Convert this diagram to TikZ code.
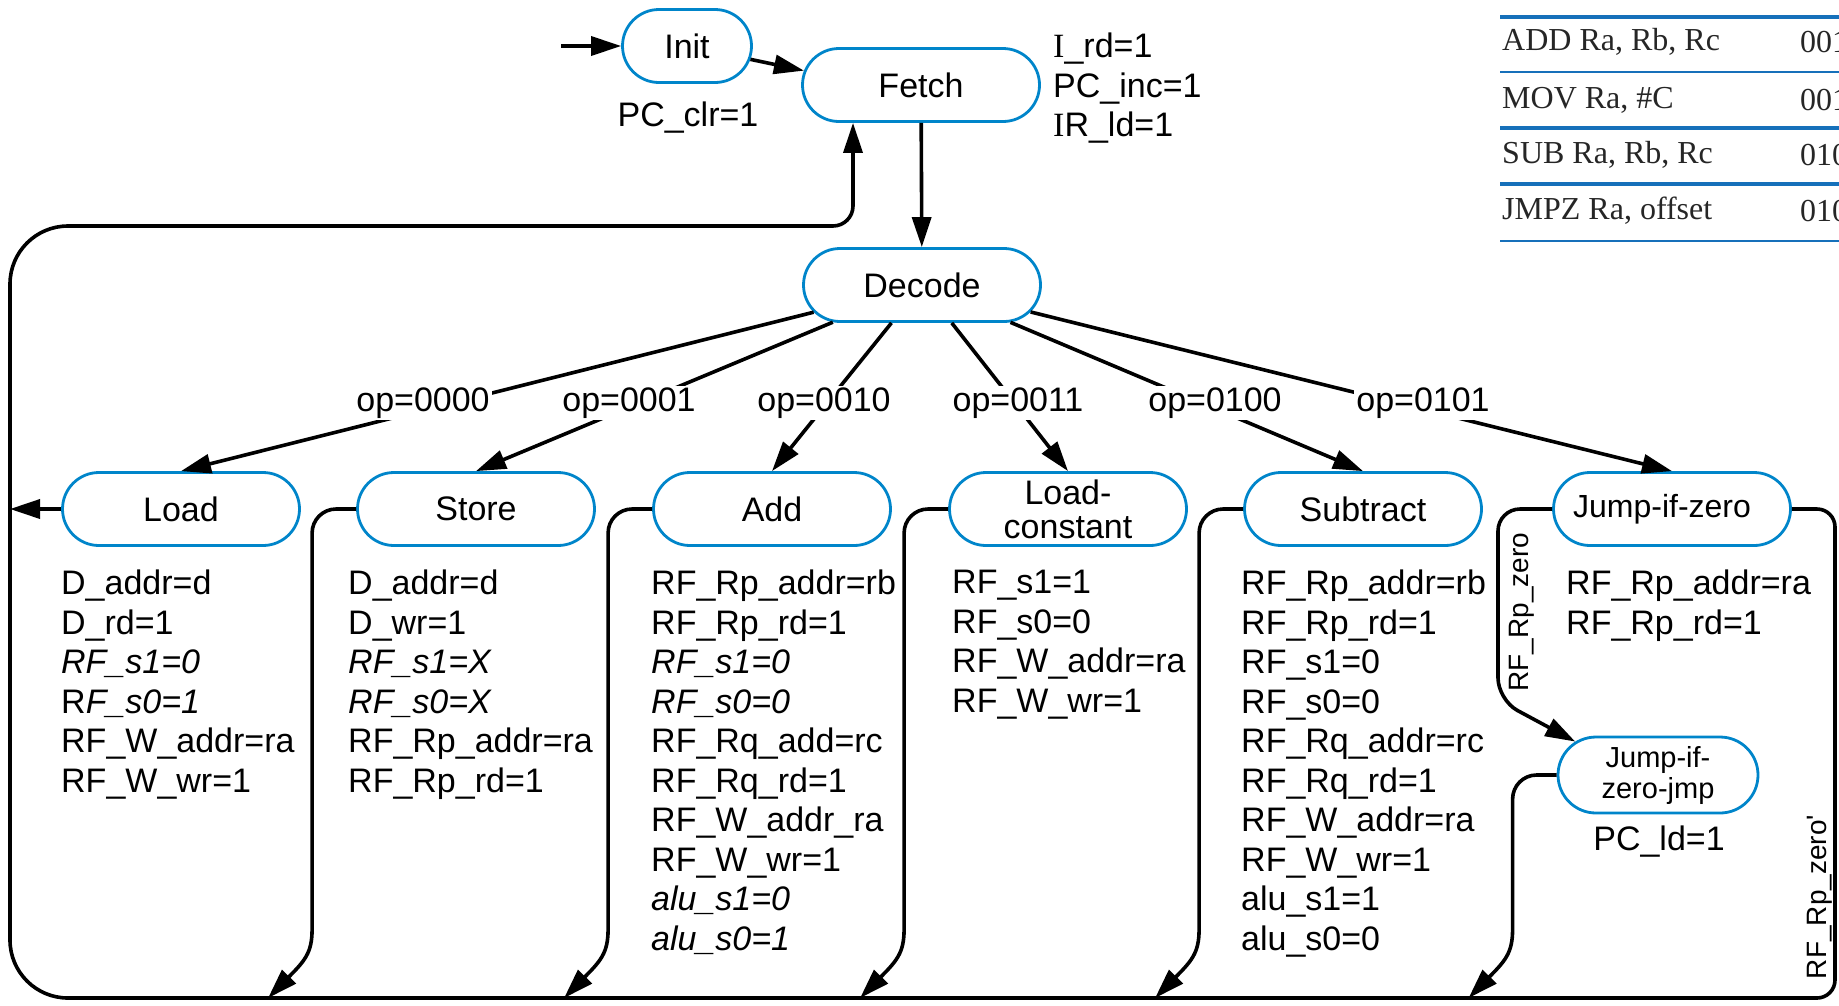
\documentclass[tikz,border=0pt]{standalone}
\usepackage{fontspec}
\setmainfont{Liberation Sans}
\newfontfamily\serifI{Liberation Serif}
\usetikzlibrary{shapes.misc,arrows.meta,bending,calc}
\definecolor{stateblue}{RGB}{0,133,202}
\definecolor{rowblue}{RGB}{22,112,186}

\begin{document}
\begin{tikzpicture}[x=1pt,y=-1pt,
    state/.style={rounded rectangle,draw=stateblue,line width=2.8pt,minimum width=237pt,minimum height=73pt,inner sep=0pt,font=\fontsize{34}{35}\selectfont},
    ctl/.style={anchor=north west,align=left,inner sep=0pt,font=\fontsize{34}{39.5}\selectfont},
    act/.style={inner sep=0pt,font=\fontsize{34}{36}\selectfont},
    cond/.style={fill=white,inner sep=2pt,font=\fontsize{34}{36}\selectfont},
    side/.style={rotate=90,inner sep=0pt,font=\fontsize{28}{30}\selectfont},
    wire/.style={line width=3.6pt,-{Triangle[length=30pt,width=19pt]}},
    rowline/.style={rowblue,line width=#1},
    rowtext/.style={anchor=west,inner sep=0pt,text=black!85,font=\serifI\fontsize{32}{34}\selectfont}]
    \useasboundingbox (0,0) rectangle (1839,1005);
    % 指令表
    \foreach \y/\w in {17/4.5,72/2.5,128/4.5,184/4.5,241/2.5}
        \draw[rowline=\w pt] (1500,\y) -- (1839,\y);
    \foreach \y/\ins/\code [count=\i] in {42/{ADD Ra, Rb, Rc}/001,100/{MOV Ra, \#C}/001,155/{SUB Ra, Rb, Rc}/010,211/{JMPZ Ra, offset}/010}{
        \node[rowtext] (ins\i) at (1502,\y) {\ins};
        \node[rowtext] (code\i) at (1800,\y) {\code};
    }
    % 状态
    \node[state,minimum width=129pt] (init) at (687,46) {Init};
    \node[state] (fetch) at (921,85) {Fetch};
    \node[state] (decode) at (922,285) {Decode};
    \node[state] (load) at (181,509) {Load};
    \node[state] (store) at (476,509) {Store};
    \node[state] (add) at (772,509) {Add};
    \node[state,align=center,font=\fontsize{34}{34}\selectfont] (ldc) at (1068,509) {Load-\\constant};
    \node[state] (sub) at (1363,509) {Subtract};
    \node[state,font=\fontsize{32}{34}\selectfont] (jz) at (1672,509) {\makebox[150pt]{\hspace*{-20pt}Jump-if-zero}};
    \node[state,minimum width=200pt,minimum height=76pt,align=center,font=\fontsize{29}{31}\selectfont] (jzj) at (1658,775) {Jump-if-\\zero-jmp};
    % 输出信号
    \node[act] (init-out) at (688,118) {PC\_clr=1};
    \node[ctl] (fetch-out) at (1053,33) {{\serifI I}\_rd=1\\PC\_inc=1\\{\serifI I}R\_ld=1};
    \node[ctl] (load-out) at (61,570) {D\_addr=d\\D\_rd=1\\\textit{RF\_s1=0}\\R\textit{F\_s0=1}\\RF\_W\_addr=ra\\RF\_W\_wr=1};
    \node[ctl] (store-out) at (348,570) {D\_addr=d\\D\_wr=1\\\textit{RF\_s1=X}\\\textit{RF\_s0=X}\\RF\_Rp\_addr=ra\\RF\_Rp\_rd=1};
    \node[ctl] (add-out) at (651,570) {RF\_Rp\_addr=rb\\RF\_Rp\_rd=1\\\textit{RF\_s1=0}\\\textit{RF\_s0=0}\\RF\_Rq\_add=rc\\RF\_Rq\_rd=1\\RF\_W\_addr\_ra\\RF\_W\_wr=1\\\textit{alu\_s1=0}\\\textit{alu\_s0=1}};
    \node[ctl] (ldc-out) at (952,570) {RF\_s1=1\\RF\_s0=0\\RF\_W\_addr=ra\\RF\_W\_wr=1};
    \node[ctl] (sub-out) at (1241,570) {RF\_Rp\_addr=rb\\RF\_Rp\_rd=1\\RF\_s1=0\\RF\_s0=0\\RF\_Rq\_addr=rc\\RF\_Rq\_rd=1\\RF\_W\_addr=ra\\RF\_W\_wr=1\\alu\_s1=1\\alu\_s0=0};
    \node[ctl] (jz-out) at (1566,570) {RF\_Rp\_addr=ra\\RF\_Rp\_rd=1};
    \node[act] (jzj-out) at (1659,842) {PC\_ld=1};
    % 取指与译码
    \coordinate (entry) at (561,46);
    \draw[wire] (entry) -- (init);
    \draw[wire] (init) -- (fetch.173);
    \draw[wire] (fetch) -- (decode);
    \foreach \s/\op/\lx in {load/0000/423,store/0001/629,add/0010/824,ldc/0011/1018,sub/0100/1215,jz/0101/1423}{
        \draw[wire] (decode) -- (\s.north); % 译码分支
        \node[cond] (op\op) at (\lx,403) {op=\op};
    }
    % 返回路径
    \coordinate (lm) at (10,509);
    \draw[wire] (load) -- (lm);
    \foreach \s in {store,add,ldc,sub,jzj}{
        \coordinate (\s-bend) at ($(\s.west |- 0,905)+(-44,0)$);
        \coordinate (\s-tip) at ($(\s-bend)+(-44,93)$);
        \draw[wire,rounded corners=24pt] (\s.west) -| (\s-bend) [sharp corners] .. controls +(0,55) and +(32,-34) .. (\s-tip);
    }
    \coordinate (jz-bend) at (1498,700);
    \draw[wire,rounded corners=22pt] (jz.west) -| (jz-bend) -- (jzj.158);
    \node[side] (nzero) at (1522,612) {RF\_Rp\_zero};
    \coordinate (rt) at (1835,509);
    \coordinate (rb) at (1835,998);
    \coordinate (lb) at (10,998);
    \coordinate (lt) at (10,226);
    \coordinate (ret) at (853,226);
    \draw[wire] (jz.east) [rounded corners=18pt] -- (rt) -- (rb) -- ($(rb)!.5!(lb)$) [rounded corners=58pt] -- (lb) -- (lt) -- ($(lt)!.5!(ret)$) [rounded corners=20pt] -- (ret) -- (fetch.south -| ret);
    \node[side] (zerobar) at (1820,897) {RF\_Rp\_zero\textquotesingle};
\end{tikzpicture}
\end{document}
